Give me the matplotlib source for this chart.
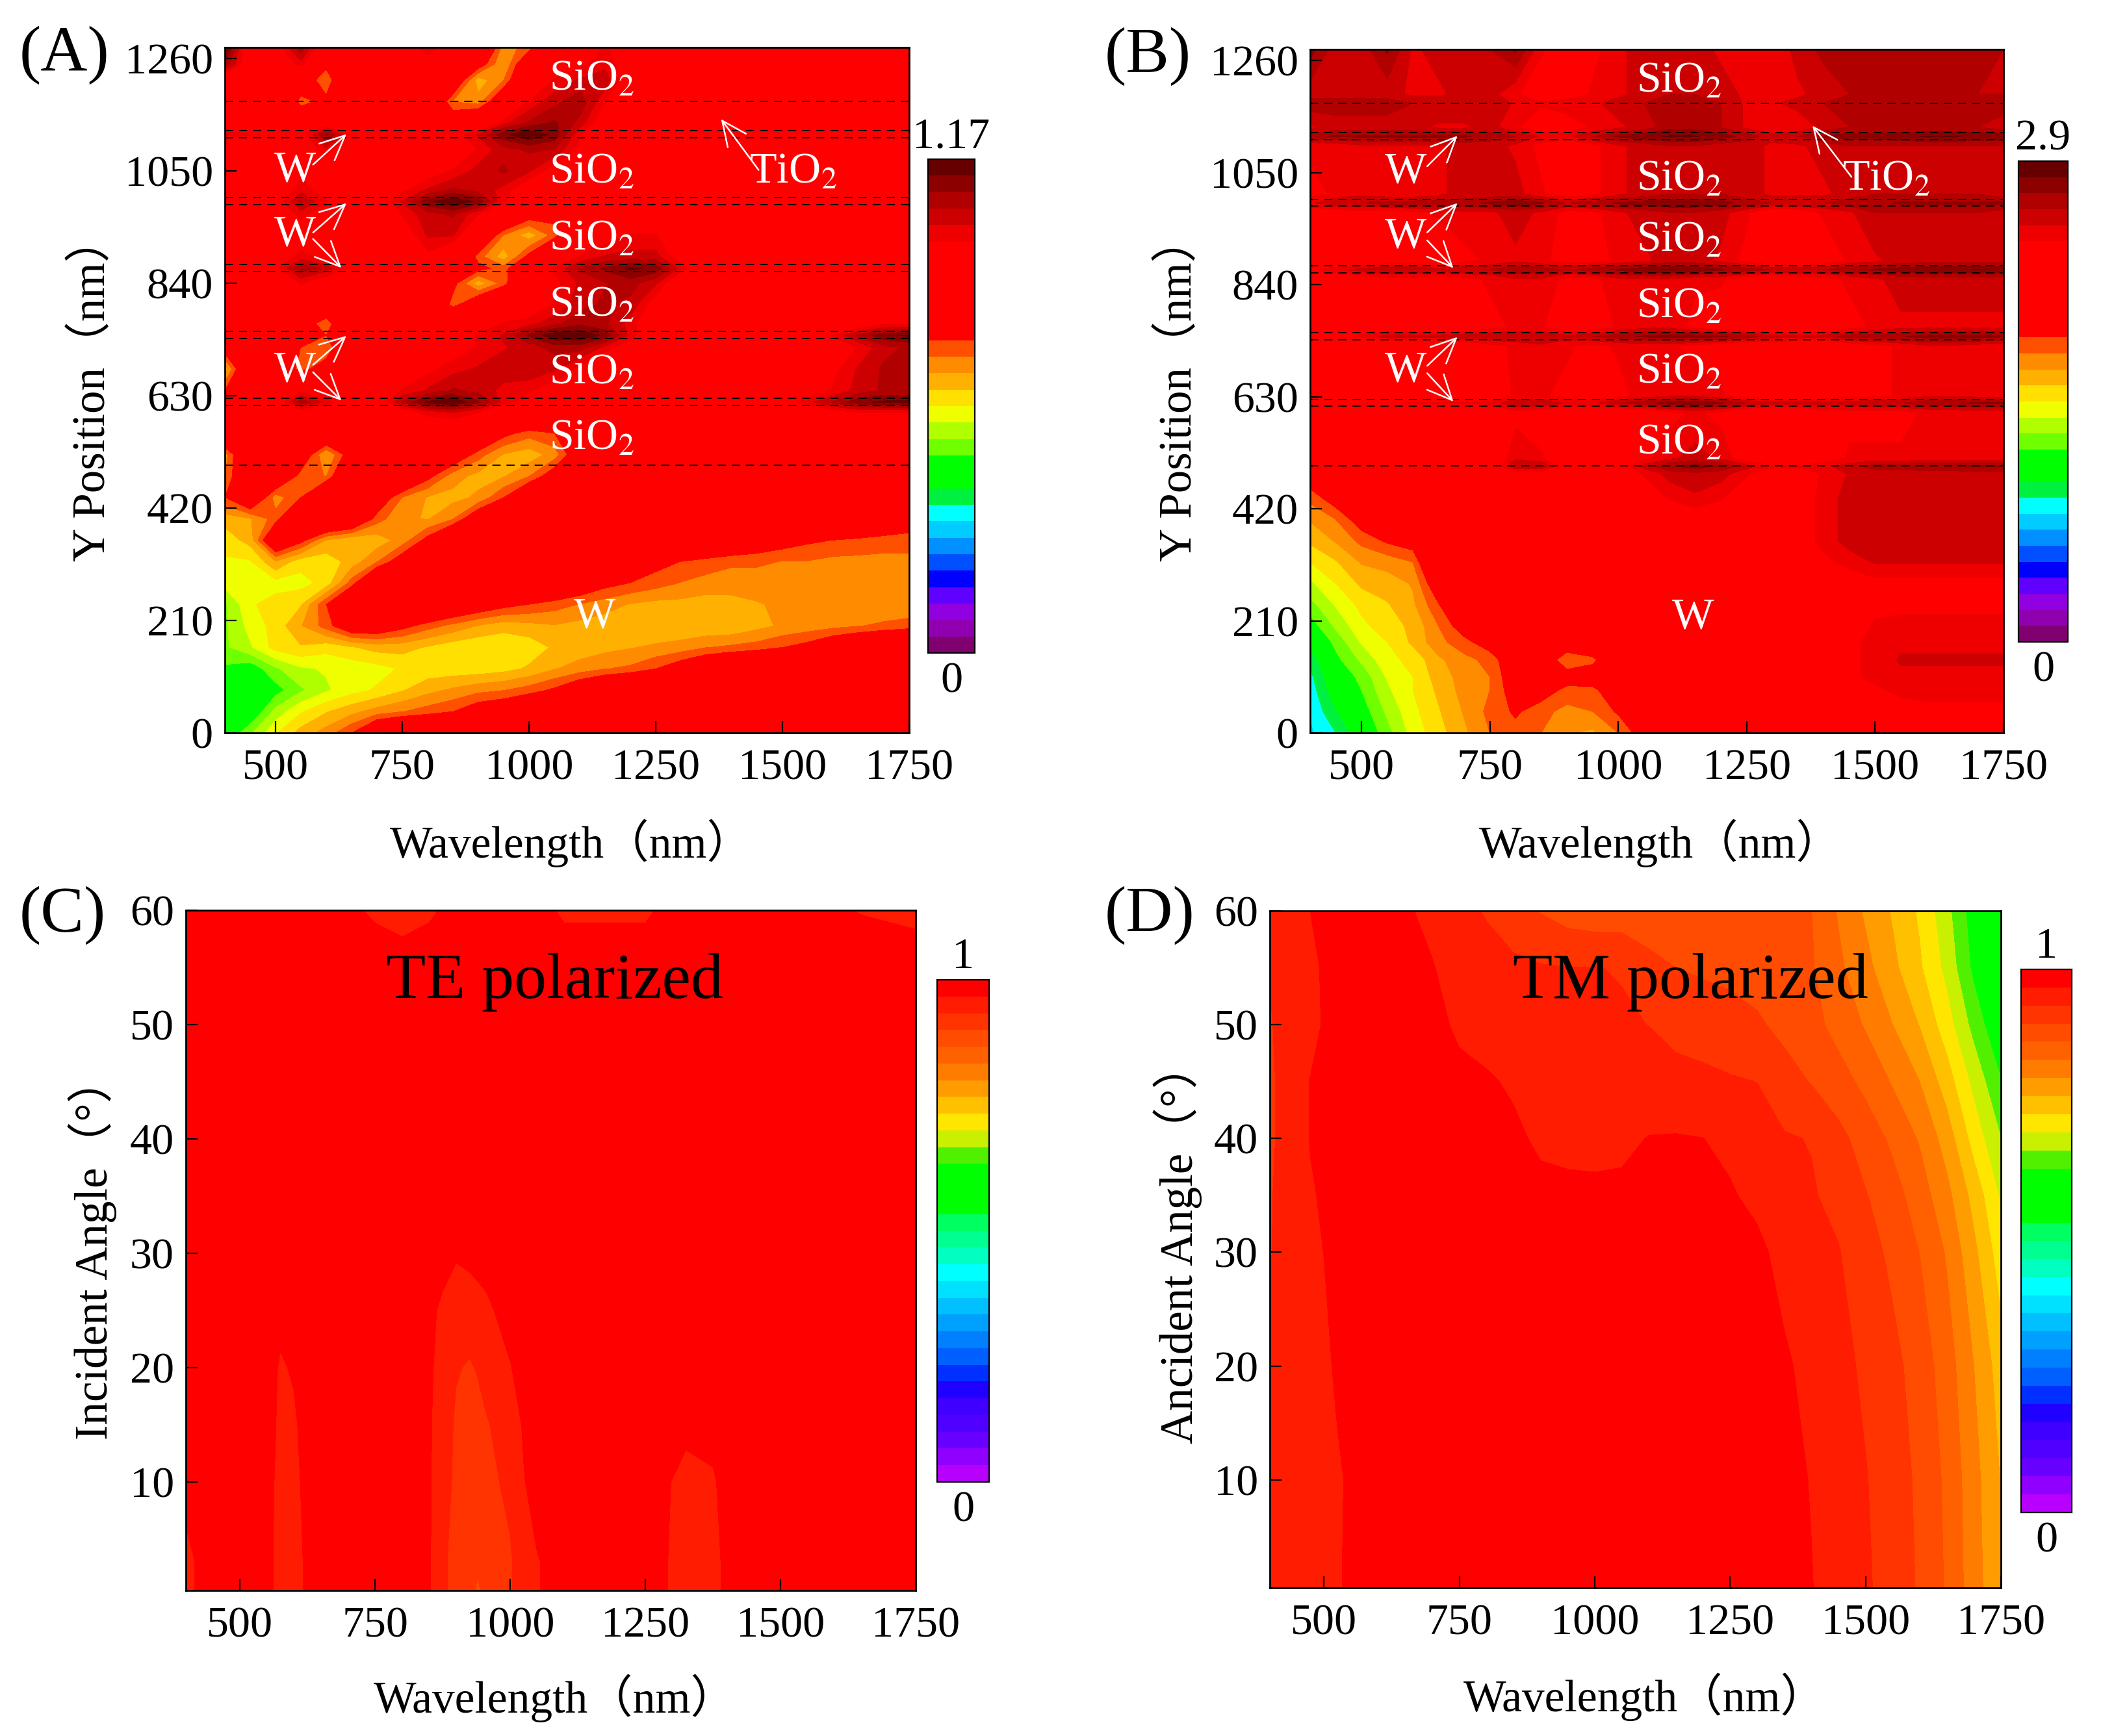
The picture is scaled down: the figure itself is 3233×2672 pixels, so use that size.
import numpy as np
import matplotlib
matplotlib.use('Agg')
import matplotlib.pyplot as plt
from matplotlib.colors import ListedColormap, BoundaryNorm

plt.rcParams['font.family'] = ['Liberation Serif', 'Noto Sans CJK SC']
plt.rcParams['mathtext.fontset'] = 'stix'

W_PX, H_PX = 3233, 2672

# wavelength grid of panels A, B
wl_ab = [400, 450, 500, 550, 600, 650, 700, 750, 800, 850, 900, 950, 1000, 1050,
         1100, 1150, 1200, 1250, 1300, 1350, 1400, 1450, 1500, 1550, 1600, 1650, 1700, 1750]

# panel A, field x100
y_a = [0, 40, 80, 120, 160, 200, 240, 280, 320, 360, 400, 440, 480, 520, 560, 600, 618, 640,
       680, 720, 743, 765, 800, 840, 868, 890, 930, 970, 993, 1015, 1050, 1090, 1118, 1140,
       1180, 1220, 1250, 1281]
field_a = [
    [42,50,58,64,68,74,84,88,88,88,88,88,88,88,88,88,88,88,88,88,88,88,88,88,88,88,88,88],
    [40,42,52,58,62,65,68,70,72,74,78,80,84,88,88,88,88,88,88,88,88,88,88,88,88,88,88,88],
    [42,40,45,50,54,57,59,62,65,67,69,70,72,75,80,84,88,88,88,88,88,88,88,88,88,88,88,88],
    [46,44,50,54,55,56,57,59,60,60,60,61,63,66,68,70,71,74,78,82,85,88,88,88,88,88,88,88],
    [50,54,60,62,60,62,64,64,62,60,59,59,60,63,64,65,66,67,68,70,71,72,74,76,80,83,86,88],
    [50,56,60,66,72,80,80,76,72,69,66,64,65,66,65,64,63,63,63,63,63,65,67,68,69,70,71,72],
    [50,58,60,62,74,86,88,88,86,82,79,76,74,72,70,68,66,65,65,64,65,66,67,67,67,67,67,67],
    [56,57,57,57,60,72,86,90,90,90,90,88,86,84,80,76,74,72,70,69,68,68,68,68,68,68,68,68],
    [58,58,66,60,60,64,70,78,88,90,90,90,90,88,88,86,80,76,74,72,71,71,70,70,69,69,69,69],
    [60,64,84,76,66,63,64,68,76,86,90,90,90,90,90,90,90,90,88,86,82,79,77,75,74,73,72,72],
    [64,66,72,86,88,84,72,67,66,70,80,88,88,88,88,88,88,88,88,88,88,88,88,88,88,85,82,78],
    [74,84,68,74,88,88,80,70,66,65,67,74,84,88,88,88,88,88,88,88,88,88,88,88,88,88,88,88],
    [70,84,84,72,70,86,88,86,76,68,65,66,70,78,88,88,88,88,88,88,88,88,88,88,88,88,88,88],
    [68,86,88,80,66,78,88,88,88,80,72,66,64,68,80,88,88,88,88,88,88,88,88,88,88,88,88,88],
    [86,88,88,88,84,88,88,88,88,88,84,76,72,74,86,88,88,88,88,88,88,88,88,88,88,88,88,88],
    [88,88,88,94,90,88,88,94,100,102,98,90,88,88,88,88,88,88,88,88,88,88,88,92,96,98,98,98],
    [88,88,92,108,100,90,92,106,114,118,110,100,94,90,90,90,90,90,90,90,90,90,94,100,106,112,114,114],
    [74,88,88,96,90,88,92,98,102,106,104,100,98,94,88,88,88,88,88,88,88,88,88,92,98,103,106,106],
    [64,86,82,72,78,88,88,92,96,100,102,104,105,102,96,88,88,88,88,88,88,88,88,92,96,102,106,106],
    [78,88,80,74,70,86,88,88,90,94,98,101,103,107,107,100,92,88,88,88,88,88,88,88,92,98,104,106],
    [88,88,88,88,74,88,90,92,92,94,98,102,110,116,118,112,100,90,90,90,90,90,90,92,98,106,112,114],
    [88,88,88,80,70,88,88,88,88,90,94,98,100,104,108,106,100,90,88,88,88,88,88,88,88,92,96,96],
    [88,88,88,88,84,88,88,88,86,72,82,90,92,98,104,106,104,94,88,88,88,88,88,88,88,88,88,88],
    [80,88,88,98,92,88,88,88,88,76,64,72,86,96,102,105,107,102,90,88,88,88,88,88,88,88,88,88],
    [88,88,96,108,104,94,90,92,94,88,76,72,84,98,106,110,114,112,100,90,90,90,90,90,90,90,90,90],
    [88,88,92,100,94,88,88,92,96,88,72,64,76,88,98,102,103,103,94,88,88,88,88,88,88,88,88,88],
    [88,88,88,92,76,88,88,92,102,102,84,70,64,72,88,94,98,98,88,88,88,88,88,88,88,88,88,88],
    [88,88,88,100,92,88,90,98,104,106,98,88,78,76,88,88,88,88,88,88,88,88,88,88,88,88,88,88],
    [90,94,94,106,98,90,92,102,112,118,112,98,92,90,90,90,90,90,90,90,90,90,90,90,90,90,90,90],
    [88,88,90,100,94,88,90,96,102,106,104,100,92,88,88,88,88,88,88,88,88,88,88,88,88,88,88,88],
    [88,88,88,96,92,88,88,88,94,98,103,106,102,94,88,88,88,88,88,88,88,88,88,88,88,88,88,88],
    [88,88,88,92,100,90,88,88,88,92,98,104,106,105,96,88,88,88,88,88,88,88,88,88,88,88,88,88],
    [102,98,92,94,110,96,90,90,90,94,102,112,118,112,98,90,90,90,90,90,90,90,90,94,94,94,94,94],
    [90,88,88,82,92,90,88,88,88,80,86,100,106,110,104,92,88,88,88,88,88,88,90,92,94,94,94,94],
    [76,88,88,72,76,88,88,88,86,70,68,82,98,104,108,98,88,88,88,88,88,90,92,92,94,94,92,92],
    [90,88,88,80,70,88,88,88,88,82,64,70,86,98,102,104,92,88,88,88,88,90,92,96,94,92,92,92],
    [108,92,90,100,76,88,88,90,92,88,78,66,82,94,96,100,94,88,88,88,88,90,92,94,92,92,90,90],
    [118,90,94,108,90,88,88,92,102,90,88,68,72,88,92,98,92,88,88,88,88,88,90,90,90,90,88,88],
]

# panel B, percent of full scale
y_b = [0, 40, 80, 105, 137, 170, 200, 240, 280, 320, 360, 400, 440, 485, 500, 515, 600, 618,
       632, 725, 743, 760, 850, 868, 885, 975, 993, 1010, 1100, 1118, 1135, 1180, 1197, 1281]
field_b = [
    [26,30,36,42,48,52,56,60,62,60,57,56,60,66,72,76,76,76,76,76,76,76,76,78,80,80,80,80],
    [27,33,38,44,49,53,57,61,64,61,59,60,64,70,76,76,76,76,76,76,76,76,78,80,82,82,82,82],
    [28,36,40,46,50,54,58,60,66,66,62,62,68,74,76,76,76,76,76,76,76,78,82,85,85,85,85,85],
    [29,37,41,47,50,55,58,60,67,68,66,67,70,74,76,76,76,76,76,76,78,82,85,86,86,86,86,86],
    [31,39,44,49,51,56,59,61,68,68,60,62,70,76,76,76,76,76,76,76,78,82,85,87,87,87,87,87],
    [35,41,47,50,54,59,62,66,74,76,68,70,76,76,76,76,76,76,76,76,78,82,85,86,86,86,86,86],
    [38,44,49,52,54,60,66,72,76,76,76,76,76,76,76,76,76,76,76,76,76,80,84,85,85,85,85,85],
    [42,47,51,53,56,63,72,76,76,76,76,76,76,76,76,76,76,76,76,76,76,78,82,82,82,82,82,82],
    [46,50,54,55,57,68,76,76,76,76,76,76,76,76,76,76,76,76,76,76,78,80,82,82,82,82,82,82],
    [50,53,57,58,60,74,76,76,76,76,76,76,76,76,76,76,76,76,76,78,82,85,87,87,87,87,87,87],
    [54,57,61,64,66,76,76,76,76,76,76,76,76,76,76,76,76,76,76,80,85,88,89,89,89,89,89,89],
    [57,60,66,72,74,76,76,76,76,76,76,76,76,76,76,80,78,76,76,80,85,88,89,89,89,89,89,89],
    [61,66,74,76,76,76,76,76,76,76,76,76,76,78,84,86,84,78,76,80,85,88,89,89,89,89,89,89],
    [67,72,76,76,76,76,76,76,80,80,76,76,78,84,88,89,88,84,78,80,84,87,88,88,88,88,88,88],
    [76,76,76,76,76,76,76,78,90,90,80,78,80,88,93,95,93,88,84,84,86,88,92,92,93,93,94,94],
    [76,76,76,76,76,76,76,78,86,84,76,76,76,82,86,88,86,80,78,78,80,84,84,84,84,84,84,84],
    [76,76,76,76,76,76,76,78,82,80,76,76,76,78,82,84,82,78,76,76,82,82,82,82,84,84,84,84],
    [80,80,80,82,84,84,84,84,90,90,86,86,90,92,95,96,94,90,88,88,88,88,90,90,92,93,94,94],
    [76,76,76,76,76,76,78,80,84,84,82,80,82,85,86,86,84,80,78,78,80,82,82,84,86,86,85,85],
    [76,76,76,76,76,76,78,82,84,86,84,82,84,84,84,82,80,78,80,76,76,80,82,84,86,86,85,84],
    [80,82,84,88,88,88,90,90,90,90,88,90,92,94,95,95,94,92,88,88,88,92,92,93,95,95,95,94],
    [76,76,78,80,78,76,78,82,84,84,78,80,84,86,86,82,80,78,76,76,78,82,84,86,86,86,86,86],
    [78,78,80,82,82,80,82,84,86,86,82,82,86,86,86,84,84,80,78,80,82,84,86,88,88,88,88,88],
    [82,86,88,90,90,88,90,90,93,92,90,92,94,96,97,96,94,92,90,90,90,93,94,95,96,96,97,96],
    [76,76,78,80,80,78,82,84,86,84,82,82,84,86,88,88,86,82,78,76,80,84,86,88,88,88,88,88],
    [80,80,82,80,82,84,86,86,88,86,82,82,86,88,90,90,88,84,78,80,84,86,90,90,90,90,90,88],
    [86,90,90,92,92,92,92,94,96,94,90,92,94,95,96,96,95,92,90,90,90,92,92,94,94,94,94,94],
    [82,84,86,84,84,86,88,88,88,84,80,82,86,88,90,90,90,88,86,86,86,88,90,90,90,90,90,88],
    [84,84,86,86,86,86,88,88,86,82,78,82,86,88,90,90,88,88,86,86,88,90,90,90,90,90,90,90],
    [92,94,94,94,94,94,94,92,90,86,86,90,94,96,97,97,95,92,88,90,94,95,95,96,97,97,96,96],
    [86,88,88,88,88,86,86,88,84,80,80,84,86,88,92,92,90,86,84,84,88,90,90,90,90,90,90,88],
    [92,92,92,92,90,90,90,90,86,84,86,86,88,90,92,92,90,86,86,88,90,92,92,92,92,92,92,92],
    [88,88,88,88,86,86,88,88,84,80,80,84,86,88,90,90,88,86,84,86,88,90,90,90,90,90,90,90],
    [95,88,88,94,86,88,88,90,94,84,80,82,86,88,88,88,86,84,84,88,91,92,92,92,91,91,91,90],
]

# panel C, percent
wl_c = [400, 450, 500, 550, 575, 600, 625, 650, 700, 750, 800, 850, 875, 900, 925, 940, 955,
        1000, 1025, 1050, 1100, 1250, 1275, 1325, 1375, 1400, 1500, 1650, 1750]
angle_c = [0.5, 3, 10, 15, 20, 25, 30, 40, 55, 57.5, 60]
field_c = [
    [96,98,98,98,95,95,97.5,98,98,98,98,97,94,92,91,89.5,91,93,95,96.5,98,98,97.5,95,95.5,97.5,98,98,98],
    [96,98,98,98,95,95,97.5,98,98,98,98,97,94,92,91,90.5,91,93,95,96.5,98,98,97.5,95,95.5,97.5,98,98,98],
    [97.5,98,98,98,95.5,95.5,98,98,98,98,98,97,95,92.5,92,92,92.5,94,96.5,98,98,98,97.6,95.5,96.2,98,98,98,98],
    [98,98,98,98,96,96.2,98,98,98,98,98,97,95.2,92.8,92,92.2,93,95,97,98,98,98,98,97.6,98,98,98,98,98],
    [98,98,98,98,96.3,97,98,98,98,98,98,97.2,95.5,93.6,93,93.6,94.5,96.5,98,98,98,98,98,98,98,98,98,98,98],
    [98,98,98,98,97.6,98,98,98,98,98,98,97.5,96,95,95,95.3,96,98,98,98,98,98,98,98,98,98,98,98,98],
    [98,98,98,98,98,98,98,98,98,98,98,98,98,97,97.5,98,98,98,98,98,98,98,98,98,98,98,98,98,98],
    [98,98,98,98,98,98,98,98,98,98,98,98,98,98,98,98,98,98,98,98,98,98,98,98,98,98,98,98,98],
    [98,98,98,98,98,98,98,98,98,98,98,98,98,98,98,98,98,98,98,98,98,98,98,98,98,98,98,98,98],
    [98,98,98,98,98,98,98,98,98,97.5,96.8,97.5,98,98,98,98,98,98,98,98,97.5,97.5,98,98,98,98,98,97.5,97],
    [98,97,97,98,98,98,98,98,97.5,96,95,96,97,97.5,98,98,98,98,98,98,96,96,97,98,98,98,98,96.5,96],
]

# panel D, percent
wl_d = [400, 425, 450, 475, 500, 525, 550, 600, 650, 700, 750, 800, 850, 900, 950, 1000, 1050,
        1100, 1150, 1200, 1250, 1300, 1350, 1400, 1450, 1500, 1550, 1600, 1650, 1700, 1750]
angle_d = [0.5, 10, 20, 30, 35, 40, 45, 50, 55, 60]
field_d = [
    [95.5,95.5,95.5,95.5,95.8,96.4,97.2,98,98,98,98,98,98,98,98,98,98,98,98,98,98,98,98,96.8,95,93.8,92,89.6,86.3,81.5,77],
    [95.5,95.5,95.5,95.5,95.8,96.4,97,98,98,98,98,98,98,98,98,98,98,98,98,98,98,98,97.8,96.5,95,93.5,91.8,89.3,86,81.2,76.5],
    [95,95,95.5,95.8,96.2,97,97.5,98,98,98,98,98,98,98,98,98,98,98,98,98,98,98,97.2,95.6,94.3,92.8,91,88.5,85,80,75],
    [93,95,95.5,96,96.7,97.2,97.5,97.5,97.5,97.5,97.5,97.5,97.5,97.5,97.5,97.5,97.5,97.5,97.5,97.5,97.5,97.5,95.5,94.6,93.5,91.5,89.2,86.6,83,77.5,71.5],
    [93,94.5,95.5,96.4,97,97.4,97.4,97.4,97.4,97.4,97.4,97.4,97.4,97.4,97.4,97.4,97.4,97.4,97.4,97.3,97,95.8,94.8,93.6,92.5,90.2,88,85,81,75.5,69.5],
    [92.5,94.5,95.5,96.8,97.5,97.5,97.5,97.5,97.5,97.5,97.5,97.5,97.2,96.2,95.8,95.6,95.9,96.8,96.9,96.7,95.9,94.5,93.6,93.2,91,88.5,86,83,78.5,72,66.7],
    [92.5,94.5,95.5,96.8,97.2,97.2,97.2,97.2,97.2,97.2,97.2,97,96.3,95.5,95,94.8,94.6,94.4,94.2,94,93.6,93.3,91.5,89.8,88,85.8,83,80,75,69,63.5],
    [93,94.5,95.5,95.5,97,97,97.2,97.3,97.3,97.3,96.3,95.5,94.8,94.4,94,93.8,93.6,93.3,92.5,92,91.5,90.5,89,87.8,85.5,83,80,76.5,71.5,65.5,60],
    [93.5,95,95.5,96,97,97,97.2,97.2,97.2,96.8,95.6,94.8,94,93.6,93.4,93.4,93.2,91,90,89.5,89,88.5,87.5,87,84,81,77.5,73.8,69,62.5,57],
    [95.5,95.5,95.5,96.7,97,97,97,97,97,96,94.6,93,91.5,89.8,88.5,88,88,88,88,88,88,88,88,86.7,83,79.5,76.3,72.8,67.7,61.5,55],
]

ab_colors = ['#800070', '#9000b0', '#9000e0', '#6000ff', '#0000ff', '#0050ff', '#0090ff', '#00ccff',
             '#00ffff', '#00f040', '#00ff00', '#00ff00', '#70ff00', '#b0ff00', '#f0ff00', '#ffe000',
             '#ffb000', '#ff8c00', '#ff5000', '#ff0000', '#ff0000', '#ff0000', '#ff0000', '#ff0000',
             '#ff0000', '#ee0000', '#cc0000', '#b00000', '#8c0000', '#660000']
cd_colors = ['#b800ff', '#9000ff', '#6800ff', '#5000ff', '#4000ff', '#2000ff', '#0030ff', '#0060ff',
             '#0080ff', '#00a0ff', '#00c0ff', '#00e0ff', '#00ffff', '#00ffc0', '#00ff90', '#00ff60',
             '#00ff00', '#00ff00', '#00ff00', '#50f000', '#c8f000', '#ffe600', '#ffc000', '#ff9c00',
             '#ff7c00', '#ff6000', '#ff4c00', '#ff3400', '#ff1c00', '#ff0000']

layer_lines = [500, 612, 625, 737, 750, 862, 875, 987, 1000, 1112, 1125, 1180]

wl_ticks = [500, 750, 1000, 1250, 1500, 1750]
y_ticks = [0, 210, 420, 630, 840, 1050, 1260]
angle_ticks = [10, 20, 30, 40, 50, 60]
sio2 = 'SiO$_2$'
tio2 = 'TiO$_2$'


def px_axes(x0, y0, x1, y1):
    return fig.add_axes([x0 / W_PX, 1 - y1 / H_PX, (x1 - x0) / W_PX, (y1 - y0) / H_PX])


def px_text(x, y, s, **kw):
    kw.setdefault('ha', 'center')
    kw.setdefault('va', 'center')
    fig.text(x / W_PX, 1 - y / H_PX, s, **kw)


def panel(box, cbox, xv, yv, zv, vmax, colors, ylim, yticks, top_label):
    ax = px_axes(*box)
    levels = np.linspace(0, vmax, 31)
    cmap = ListedColormap(colors)
    norm = BoundaryNorm(levels, cmap.N)
    z = np.clip(np.array(zv, dtype=float), 0, vmax * 0.999)
    cs = ax.contourf(xv, yv, z, levels=levels, cmap=cmap, norm=norm, antialiased=False)
    ax.set_xlim(400, 1750)
    ax.set_ylim(*ylim)
    ax.set_xticks(wl_ticks)
    ax.set_yticks(yticks)
    ax.tick_params(direction='in', length=13, width=1.6, labelsize=49, pad=13, top=False, right=False)
    ax.tick_params(axis='x', pad=18)
    for s in ax.spines.values():
        s.set_linewidth(2)
    cax = px_axes(*cbox)
    cb = fig.colorbar(cs, cax=cax)
    cb.set_ticks([])
    cb.minorticks_off()
    cb.outline.set_linewidth(1.6)
    cxm = (cbox[0] + cbox[2]) / 2
    px_text(cxm, cbox[1] - 34, top_label, fontsize=49)
    px_text(cxm, cbox[3] + 44, '0', fontsize=49)
    return ax


def add_layers(ax, arrows, sio_x, sio_y, w_x, w_y, w_low, ti_x, ti_y):
    for y in layer_lines:
        ax.plot([400, 1750], [y, y], color='black', lw=1.3, dashes=(7, 5))
    for y in sio_y:
        ax.text(sio_x, y, sio2, color='white', fontsize=49, ha='left', va='center')
    for y in w_y:
        ax.text(w_x, y, 'W', color='white', fontsize=49, ha='center', va='center')
    ax.text(w_low, 217, 'W', color='white', fontsize=49, ha='center', va='center')
    ax.text(ti_x, ti_y, tio2, color='white', fontsize=49, ha='left', va='center')
    for start, end in arrows:
        ax.annotate('', xy=end, xytext=start,
                    arrowprops=dict(arrowstyle='->,head_length=0.65,head_width=0.3', color='white',
                                    lw=1.8, mutation_scale=42, shrinkA=0, shrinkB=0))


fig = plt.figure(figsize=(W_PX / 100, H_PX / 100), dpi=100)

# A
ax_a = panel((346, 73, 1399, 1128), (1428, 245, 1500, 1005), wl_ab, y_a, np.array(field_a) / 100,
             1.17, ab_colors, (0, 1281), y_ticks, '1.17')
add_layers(ax_a, [((574, 1062), (640, 1119)), ((574, 935), (640, 990)), ((574, 923), (630, 869)),
                  ((574, 688), (640, 742)), ((574, 674), (630, 621)), ((1453, 1052), (1379, 1147))],
           1040, [1222, 1048, 924, 800, 673, 551], 539, [1052, 931, 678], 1130, 1435, 1048)

# B
ax_b = panel((2016, 76, 3083, 1128), (3106, 248, 3182, 988), wl_ab, y_b, np.array(field_b) * 2.9 / 100,
             2.9, ab_colors, (0, 1281), y_ticks, '2.9')
add_layers(ax_b, [((628, 1062), (687, 1119)), ((628, 938), (687, 993)), ((628, 923), (679, 871)),
                  ((628, 688), (687, 742)), ((628, 674), (679, 621)), ((1454, 1042), (1378, 1138))],
           1035, [1222, 1038, 924, 800, 676, 544], 586, [1052, 930, 680], 1145, 1436, 1038)

# C, D
panel((286, 1401, 1409, 2448), (1442, 1508, 1522, 2281), wl_c, angle_c, np.array(field_c) / 100,
      1, cd_colors, (0.5, 60), angle_ticks, '1')
panel((1954, 1402, 3079, 2444), (3110, 1492, 3188, 2328), wl_d, angle_d, np.array(field_d) / 100,
      1, cd_colors, (0.5, 60), angle_ticks, '1')

px_text(853, 1512, 'TE polarized', fontsize=72)
px_text(2601, 1512, 'TM polarized', fontsize=72)

# panel letters
for x, y, s in [(30, 85, '(A)'), (1700, 87, '(B)'), (30, 1409, '(C)'), (1700, 1409, '(D)')]:
    px_text(x, y, s, fontsize=72, ha='left')

# axis titles
for x, y, s in [(879, 1298, 'Wavelength（nm）'), (2555, 1298, 'Wavelength（nm）'),
                (854, 2614, 'Wavelength（nm）'), (2531, 2612, 'Wavelength（nm）')]:
    px_text(x, y, s, fontsize=50)
for x, y, s in [(142, 598, 'Y Position（nm）'), (1814, 598, 'Y Position（nm）'),
                (142, 1921, 'Incident Angle（°）'), (1812, 1913, 'Ancident Angle（°）')]:
    px_text(x, y, s, fontsize=51, rotation=90)

fig.savefig('out.png', dpi=100)
